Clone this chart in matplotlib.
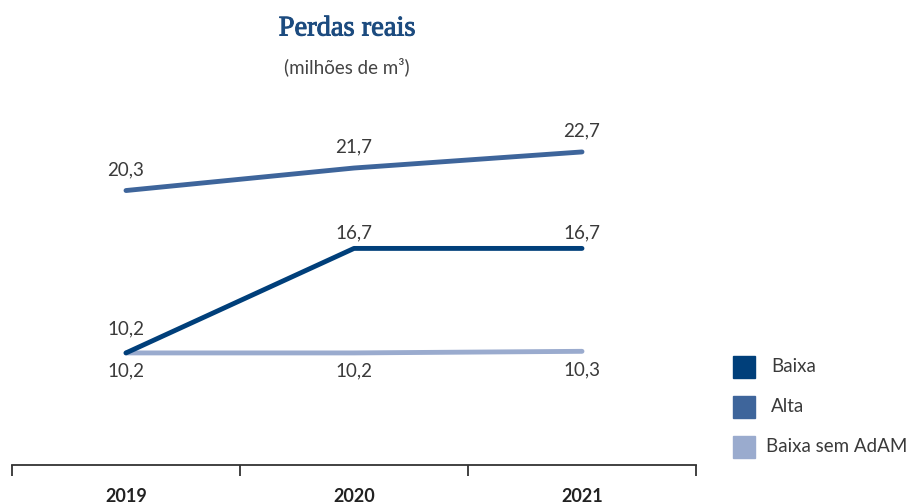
import matplotlib
matplotlib.use("Agg")
import matplotlib.pyplot as plt
from matplotlib.patches import Rectangle
import matplotlib.patheffects as pe

years = ["2019", "2020", "2021"]
baixa = [10.2, 16.7, 16.7]
alta = [20.3, 21.7, 22.7]
baixa_sem = [10.2, 10.2, 10.3]
series_names = ["Baixa", "Alta", "Baixa sem AdAM"]
colors = ["#003f7a", "#3e659b", "#9aabce"]

W, H = 909, 504
fig = plt.figure(figsize=(W / 100, H / 100), dpi=100)

def fx(px):
    return px / W

def fy(py):
    return 1 - py / H

# axes spanning x 12..696 px, y 100..465 px
ax = fig.add_axes([fx(12), fy(465), fx(696) - fx(12), fy(100) - fy(465)])
ax.set_xlim(-0.5, 2.5)
ax.set_ylim(3.23, 25.93)
for s in ["top", "right", "left"]:
    ax.spines[s].set_visible(False)
ax.spines["bottom"].set_color("#333333")
ax.spines["bottom"].set_linewidth(1.3)
ax.set_yticks([])
ax.set_xticks([-0.5, 0.5, 1.5, 2.5])
ax.set_xticklabels([])
ax.tick_params(axis="x", direction="out", length=8, width=1.3, color="#333333")

x = list(range(len(years)))
font = "Lato"
for i, y in enumerate(years):
    ax.text(i, -0.085, y, transform=ax.get_xaxis_transform(), ha="center", va="center",
            fontsize=13, fontweight="bold", color="#222222", family=font)

ax.plot(x, baixa_sem, color=colors[2], lw=3.5, solid_capstyle="round", zorder=2)
ax.plot(x, alta, color=colors[1], lw=3.5, solid_capstyle="round", zorder=3)
ax.plot(x, baixa, color=colors[0], lw=3.5, solid_capstyle="round", zorder=4)

def fmt(v):
    return f"{v:.1f}".replace(".", ",")

lab_kw = dict(ha="center", fontsize=13.5, color="#3a3a3a", family=font)
for i, v in enumerate(alta):
    ax.annotate(fmt(v), (i, v), xytext=(0, 9), textcoords="offset points", va="bottom", **lab_kw)
for i, v in enumerate(baixa):
    if i == 0:
        ax.annotate(fmt(v), (i, v), xytext=(0, 11), textcoords="offset points", va="bottom", **lab_kw)
    else:
        ax.annotate(fmt(v), (i, v), xytext=(0, 5), textcoords="offset points", va="bottom", **lab_kw)
for i, v in enumerate(baixa_sem):
    ax.annotate(fmt(v), (i, v), xytext=(0, -7), textcoords="offset points", va="top", **lab_kw)

# title
fig.text(fx(347), fy(29), "Perdas reais", ha="center", va="center", fontsize=20.5,
         color="#1c4b7f", family="Liberation Serif",
         path_effects=[pe.withStroke(linewidth=0.7, foreground="#1c4b7f")])
fig.text(fx(347), fy(67), "(milhões de m³)", ha="center", va="center", fontsize=13.5,
         color="#444444", family=font)

# legend
leg_y = [367, 407, 447]
leg_tx = [771, 771, 766]
for name, c, yy, tx in zip(series_names, colors, leg_y, leg_tx):
    fig.patches.append(Rectangle((fx(733), fy(yy + 11)), fx(22), 22 / H,
                                 transform=fig.transFigure, color=c, figure=fig))
    fig.text(fx(tx), fy(yy), name, ha="left", va="center", fontsize=13.5,
             color="#3a3a3a", family=font)

fig.savefig("out.png", dpi=100)
